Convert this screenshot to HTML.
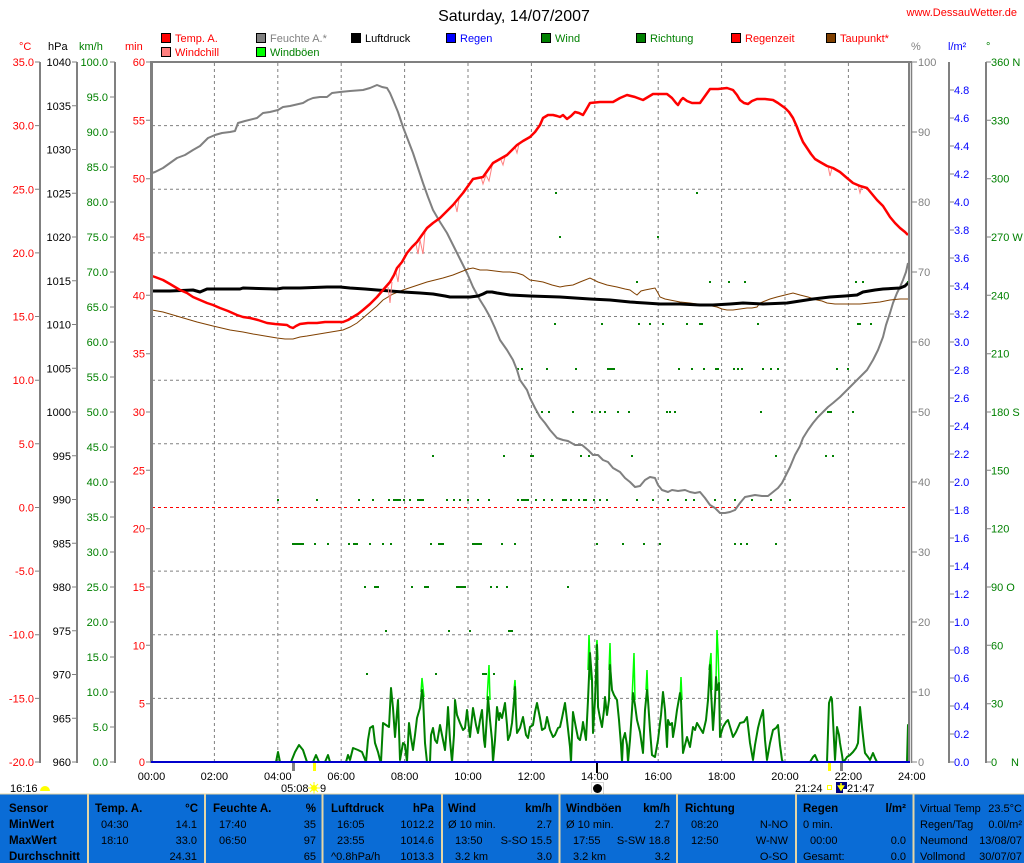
<!DOCTYPE html>
<html><head><meta charset="utf-8"><style>
body{margin:0;background:#fff}
svg{display:block}
text{font-family:"Liberation Sans",Arial,sans-serif}
</style></head><body>
<svg width="1024" height="863" viewBox="0 0 1024 863" xmlns="http://www.w3.org/2000/svg" font-size="11">
<rect width="1024" height="863" fill="#fff"/>

<!-- title -->
<text x="514" y="21" font-size="16" text-anchor="middle" fill="#000">Saturday, 14/07/2007</text>
<text x="1017" y="16" text-anchor="end" fill="#ff0000">www.DessauWetter.de</text>

<!-- legend -->
<g stroke="#000" stroke-width="1">
<rect x="161.5" y="33.5" width="9" height="9" fill="#ff0000"/>
<rect x="256.5" y="33.5" width="9" height="9" fill="#808080"/>
<rect x="351.5" y="33.5" width="9" height="9" fill="#000000"/>
<rect x="446.5" y="33.5" width="9" height="9" fill="#0000ff"/>
<rect x="541.5" y="33.5" width="9" height="9" fill="#008000"/>
<rect x="636.5" y="33.5" width="9" height="9" fill="#008000"/>
<rect x="731.5" y="33.5" width="9" height="9" fill="#ff0000"/>
<rect x="826.5" y="33.5" width="9" height="9" fill="#804000"/>
<rect x="161.5" y="47.5" width="9" height="9" fill="#ff8080"/>
<rect x="256.5" y="47.5" width="9" height="9" fill="#00ff00"/>
</g>
<text x="175" y="42" fill="#ff0000">Temp. A.</text>
<text x="270" y="42" fill="#808080">Feuchte A.*</text>
<text x="365" y="42" fill="#000">Luftdruck</text>
<text x="460" y="42" fill="#0000ff">Regen</text>
<text x="555" y="42" fill="#008000">Wind</text>
<text x="650" y="42" fill="#008000">Richtung</text>
<text x="745" y="42" fill="#ff0000">Regenzeit</text>
<text x="840" y="42" fill="#ff0000">Taupunkt*</text>
<text x="175" y="56" fill="#ff0000">Windchill</text>
<text x="270" y="56" fill="#008000">Windböen</text>

<!-- unit headers -->
<text x="19" y="50" fill="#ff0000">°C</text>
<text x="48" y="50" fill="#000">hPa</text>
<text x="79" y="50" fill="#008000">km/h</text>
<text x="125" y="50" fill="#ff0000">min</text>
<text x="911" y="50" fill="#808080">%</text>
<text x="948" y="50" fill="#0000ff">l/m²</text>
<text x="986" y="50" fill="#008000">°</text>

<!-- left axes lines -->
<g stroke="#808080" stroke-width="2">
<line x1="40" y1="62" x2="40" y2="763"/>
<line x1="77" y1="62" x2="77" y2="763"/>
<line x1="115" y1="62" x2="115" y2="763"/>
<line x1="949" y1="62" x2="949" y2="763"/>
<line x1="986" y1="62" x2="986" y2="763"/>
</g>

<g stroke="#808080" stroke-width="1">
<path d="M35,62H40M35,125.6H40M35,189.3H40M35,252.9H40M35,316.5H40M35,380.2H40M35,443.8H40M35,507.5H40M35,571.1H40M35,634.7H40M35,698.4H40M35,762H40"/>
<path d="M72,62H77M72,105.75H77M72,149.5H77M72,193.25H77M72,237H77M72,280.75H77M72,324.5H77M72,368.25H77M72,412H77M72,455.75H77M72,499.5H77M72,543.25H77M72,587H77M72,630.75H77M72,674.5H77M72,718.25H77M72,762H77"/>
<path d="M110,62H115M110,97H115M110,132H115M110,167H115M110,202H115M110,237H115M110,272H115M110,307H115M110,342H115M110,377H115M110,412H115M110,447H115M110,482H115M110,517H115M110,552H115M110,587H115M110,622H115M110,657H115M110,692H115M110,727H115M110,762H115"/>
<path d="M146,62H151M146,120.3H151M146,178.7H151M146,237H151M146,295.3H151M146,353.7H151M146,412H151M146,470.3H151M146,528.7H151M146,587H151M146,645.3H151M146,703.7H151M146,762H151"/>
<path d="M912,62H917M912,132H917M912,202H917M912,272H917M912,342H917M912,412H917M912,482H917M912,552H917M912,622H917M912,692H917M912,762H917"/>
<path d="M949,90H954M949,118H954M949,146H954M949,174H954M949,202H954M949,230H954M949,258H954M949,286H954M949,314H954M949,342H954M949,370H954M949,398H954M949,426H954M949,454H954M949,482H954M949,510H954M949,538H954M949,566H954M949,594H954M949,622H954M949,650H954M949,678H954M949,706H954M949,734H954M949,762H954"/>
<path d="M986,62H991M986,120.3H991M986,178.7H991M986,237H991M986,295.3H991M986,353.7H991M986,412H991M986,470.3H991M986,528.7H991M986,587H991M986,645.3H991M986,703.7H991M986,762H991"/>
</g>

<g fill="#ff0000" text-anchor="end">
<text x="34" y="66">35.0</text><text x="34" y="129.6">30.0</text><text x="34" y="193.3">25.0</text><text x="34" y="256.9">20.0</text><text x="34" y="320.5">15.0</text><text x="34" y="384.2">10.0</text><text x="34" y="447.8">5.0</text><text x="34" y="511.5">0.0</text><text x="34" y="575.1">-5.0</text><text x="34" y="638.7">-10.0</text><text x="34" y="702.4">-15.0</text><text x="34" y="766">-20.0</text>
</g>
<g fill="#000" text-anchor="end">
<text x="71" y="66">1040</text><text x="71" y="109.75">1035</text><text x="71" y="153.5">1030</text><text x="71" y="197.25">1025</text><text x="71" y="241">1020</text><text x="71" y="284.75">1015</text><text x="71" y="328.5">1010</text><text x="71" y="372.25">1005</text><text x="71" y="416">1000</text><text x="71" y="459.75">995</text><text x="71" y="503.5">990</text><text x="71" y="547.25">985</text><text x="71" y="591">980</text><text x="71" y="634.75">975</text><text x="71" y="678.5">970</text><text x="71" y="722.25">965</text><text x="71" y="766">960</text>
</g>
<g fill="#008000" text-anchor="end">
<text x="108" y="66">100.0</text><text x="108" y="101">95.0</text><text x="108" y="136">90.0</text><text x="108" y="171">85.0</text><text x="108" y="206">80.0</text><text x="108" y="241">75.0</text><text x="108" y="276">70.0</text><text x="108" y="311">65.0</text><text x="108" y="346">60.0</text><text x="108" y="381">55.0</text><text x="108" y="416">50.0</text><text x="108" y="451">45.0</text><text x="108" y="486">40.0</text><text x="108" y="521">35.0</text><text x="108" y="556">30.0</text><text x="108" y="591">25.0</text><text x="108" y="626">20.0</text><text x="108" y="661">15.0</text><text x="108" y="696">10.0</text><text x="108" y="731">5.0</text><text x="108" y="766">0.0</text>
</g>
<g fill="#ff0000" text-anchor="end">
<text x="145" y="66">60</text><text x="145" y="124.3">55</text><text x="145" y="182.7">50</text><text x="145" y="241">45</text><text x="145" y="299.3">40</text><text x="145" y="357.7">35</text><text x="145" y="416">30</text><text x="145" y="474.3">25</text><text x="145" y="532.7">20</text><text x="145" y="591">15</text><text x="145" y="649.3">10</text><text x="145" y="707.7">5</text><text x="145" y="766">0</text>
</g>
<g fill="#808080">
<text x="918" y="66">100</text><text x="918" y="136">90</text><text x="918" y="206">80</text><text x="918" y="276">70</text><text x="918" y="346">60</text><text x="918" y="416">50</text><text x="918" y="486">40</text><text x="918" y="556">30</text><text x="918" y="626">20</text><text x="918" y="696">10</text><text x="918" y="766">0</text>
</g>
<g fill="#0000ff">
<text x="954" y="94">4.8</text><text x="954" y="122">4.6</text><text x="954" y="150">4.4</text><text x="954" y="178">4.2</text><text x="954" y="206">4.0</text><text x="954" y="234">3.8</text><text x="954" y="262">3.6</text><text x="954" y="290">3.4</text><text x="954" y="318">3.2</text><text x="954" y="346">3.0</text><text x="954" y="374">2.8</text><text x="954" y="402">2.6</text><text x="954" y="430">2.4</text><text x="954" y="458">2.2</text><text x="954" y="486">2.0</text><text x="954" y="514">1.8</text><text x="954" y="542">1.6</text><text x="954" y="570">1.4</text><text x="954" y="598">1.2</text><text x="954" y="626">1.0</text><text x="954" y="654">0.8</text><text x="954" y="682">0.6</text><text x="954" y="710">0.4</text><text x="954" y="738">0.2</text><text x="954" y="766">0.0</text>
</g>
<g fill="#008000">
<text x="991" y="66">360 N</text><text x="991" y="124.3">330</text><text x="991" y="182.7">300</text><text x="991" y="241">270 W</text><text x="991" y="299.3">240</text><text x="991" y="357.7">210</text><text x="991" y="416">180 S</text><text x="991" y="474.3">150</text><text x="991" y="532.7">120</text><text x="991" y="591">90 O</text><text x="991" y="649.3">60</text><text x="991" y="707.7">30</text><text x="991" y="766">0</text><text x="1011" y="766">N</text>
</g>

<!-- grid -->
<g stroke="#808080" stroke-width="1" stroke-dasharray="3,3">
<path d="M152,125.6H909M152,189.3H909M152,252.9H909M152,316.5H909M152,380.2H909M152,443.8H909M152,571.1H909M152,634.7H909M152,698.4H909"/>
<path d="M214.4,63V762M277.8,63V762M341.2,63V762M404.6,63V762M468,63V762M531.4,63V762M594.8,63V762M658.2,63V762M721.6,63V762M785,63V762M848.4,63V762"/>
</g>
<path d="M152,507.5H909" stroke="#ff0000" stroke-width="1" stroke-dasharray="3,3"/>

<!-- wind direction dots -->
<g fill="#008000">
<rect x="555" y="192" width="2" height="2"/><rect x="696" y="192" width="2" height="2"/>
<rect x="559" y="236" width="2" height="2"/><rect x="657" y="236" width="2" height="2"/>
<rect x="636" y="281" width="2" height="2"/><rect x="709" y="281" width="2" height="2"/><rect x="728" y="281" width="2" height="2"/><rect x="744" y="281" width="2" height="2"/><rect x="855" y="281" width="2" height="2"/><rect x="862" y="281" width="2" height="2"/><rect x="907" y="281" width="2" height="2"/>
<rect x="554" y="323" width="2" height="2"/><rect x="601" y="323" width="2" height="2"/><rect x="638" y="323" width="2" height="2"/><rect x="649" y="323" width="2" height="2"/><rect x="662" y="323" width="2" height="2"/><rect x="686" y="323" width="2" height="2"/><rect x="699" y="323" width="4" height="2"/><rect x="757" y="323" width="2" height="2"/><rect x="857" y="323" width="4" height="2"/><rect x="870" y="323" width="2" height="2"/>
<rect x="517" y="368" width="2" height="2"/><rect x="521" y="368" width="2" height="2"/><rect x="546" y="368" width="2" height="2"/><rect x="575" y="368" width="2" height="2"/><rect x="607" y="368" width="8" height="2"/><rect x="678" y="368" width="2" height="2"/><rect x="691" y="368" width="2" height="2"/><rect x="703" y="368" width="2" height="2"/><rect x="715" y="368" width="4" height="2"/><rect x="733" y="368" width="2" height="2"/><rect x="737" y="368" width="2" height="2"/><rect x="741" y="368" width="2" height="2"/><rect x="762" y="368" width="2" height="2"/><rect x="770" y="368" width="2" height="2"/><rect x="777" y="368" width="2" height="2"/><rect x="836" y="368" width="2" height="2"/><rect x="847" y="368" width="2" height="2"/>
<rect x="536" y="411" width="2" height="2"/><rect x="541" y="411" width="2" height="2"/><rect x="548" y="411" width="2" height="2"/><rect x="572" y="411" width="2" height="2"/><rect x="591" y="411" width="2" height="2"/><rect x="599" y="411" width="2" height="2"/><rect x="604" y="411" width="2" height="2"/><rect x="617" y="411" width="2" height="2"/><rect x="628" y="411" width="2" height="2"/><rect x="666" y="411" width="2" height="2"/><rect x="669" y="411" width="2" height="2"/><rect x="674" y="411" width="2" height="2"/><rect x="760" y="411" width="2" height="2"/><rect x="815" y="411" width="2" height="2"/><rect x="827" y="411" width="5" height="2"/><rect x="852" y="411" width="2" height="2"/>
<rect x="432" y="455" width="2" height="2"/><rect x="503" y="455" width="2" height="2"/><rect x="530" y="455" width="4" height="2"/><rect x="580" y="455" width="2" height="2"/><rect x="588" y="455" width="2" height="2"/><rect x="631" y="455" width="2" height="2"/><rect x="775" y="455" width="2" height="2"/><rect x="825" y="455" width="2" height="2"/><rect x="832" y="455" width="2" height="2"/>
<rect x="277" y="499" width="2" height="2"/><rect x="316" y="499" width="2" height="2"/><rect x="358" y="499" width="2" height="2"/><rect x="372" y="499" width="2" height="2"/><rect x="388" y="499" width="2" height="2"/><rect x="393" y="499" width="8" height="2"/><rect x="403" y="499" width="2" height="2"/><rect x="409" y="499" width="2" height="2"/><rect x="417" y="499" width="7" height="2"/><rect x="446" y="499" width="2" height="2"/><rect x="453" y="499" width="2" height="2"/><rect x="459" y="499" width="2" height="2"/><rect x="467" y="499" width="2" height="2"/><rect x="477" y="499" width="2" height="2"/><rect x="488" y="499" width="2" height="2"/><rect x="517" y="499" width="2" height="2"/><rect x="521" y="499" width="8" height="2"/><rect x="535" y="499" width="2" height="2"/><rect x="543" y="499" width="2" height="2"/><rect x="551" y="499" width="2" height="2"/><rect x="562" y="499" width="5" height="2"/><rect x="570" y="499" width="2" height="2"/><rect x="578" y="499" width="2" height="2"/><rect x="583" y="499" width="4" height="2"/><rect x="593" y="499" width="2" height="2"/><rect x="599" y="499" width="2" height="2"/><rect x="606" y="499" width="2" height="2"/><rect x="636" y="499" width="2" height="2"/><rect x="652" y="499" width="2" height="2"/><rect x="667" y="499" width="2" height="2"/><rect x="685" y="499" width="2" height="2"/><rect x="693" y="499" width="2" height="2"/><rect x="714" y="499" width="2" height="2"/><rect x="734" y="499" width="2" height="2"/><rect x="751" y="499" width="2" height="2"/><rect x="770" y="499" width="2" height="2"/><rect x="789" y="499" width="2" height="2"/>
<rect x="292" y="543" width="12" height="2"/><rect x="314" y="543" width="2" height="2"/><rect x="327" y="543" width="2" height="2"/><rect x="348" y="543" width="2" height="2"/><rect x="353" y="543" width="5" height="2"/><rect x="369" y="543" width="2" height="2"/><rect x="382" y="543" width="2" height="2"/><rect x="390" y="543" width="2" height="2"/><rect x="430" y="543" width="2" height="2"/><rect x="438" y="543" width="6" height="2"/><rect x="472" y="543" width="10" height="2"/><rect x="501" y="543" width="2" height="2"/><rect x="514" y="543" width="2" height="2"/><rect x="596" y="543" width="2" height="2"/><rect x="622" y="543" width="2" height="2"/><rect x="643" y="543" width="2" height="2"/><rect x="659" y="543" width="2" height="2"/><rect x="734" y="543" width="2" height="2"/><rect x="740" y="543" width="2" height="2"/><rect x="746" y="543" width="2" height="2"/><rect x="775" y="543" width="2" height="2"/>
<rect x="364" y="586" width="2" height="2"/><rect x="374" y="586" width="5" height="2"/><rect x="411" y="586" width="2" height="2"/><rect x="424" y="586" width="5" height="2"/><rect x="456" y="586" width="10" height="2"/><rect x="490" y="586" width="2" height="2"/><rect x="496" y="586" width="2" height="2"/><rect x="506" y="586" width="2" height="2"/><rect x="567" y="586" width="2" height="2"/>
<rect x="385" y="630" width="2" height="2"/><rect x="448" y="630" width="2" height="2"/><rect x="469" y="630" width="2" height="2"/><rect x="508" y="630" width="5" height="2"/>
<rect x="366" y="673" width="2" height="2"/><rect x="435" y="673" width="2" height="2"/><rect x="482" y="673" width="5" height="2"/><rect x="493" y="673" width="2" height="2"/>
</g>

<!-- gusts -->
<path fill="none" stroke="#00ff00" stroke-width="1.5" d="M421,692L422,678L424,697M487,700L489,665L490,700M514,690L515,680L516,700M588,670L589,635L591,680M596,650L597,640L598,660M609,670L610,643L611,680M632,700L634,653L635,700M646,690L647,670L648,700M680,700L681,677L682,700M709,670L711,653L712,690M716,680L717,630L718,650L719,683"/>

<!-- wind -->
<polyline fill="none" stroke="#008000" stroke-width="2" stroke-linejoin="round" points="151,762 276,762 278,752 280,762 291,762 295,752 299,745 303,750 307,762 313,762 316,755 319,762 325,762 328,755 330,762 346,762 348,755 350,760 353,748 358,750 362,752 366,762 368,740 370,728 373,726 375,743 378,752 380,760 381,762 383,723 386,725 389,727 391,688 393,708 395,737 397,712 398,700 400,760 403,743 405,745 407,762 409,723 411,738 413,750 415,735 417,718 420,708 422,690 423,697 425,743 427,762 430,762 431,735 433,728 435,740 437,743 440,725 442,735 445,750 447,725 448,707 450,740 452,762 454,735 455,700 457,715 460,723 463,730 465,728 467,710 470,737 473,708 476,725 478,733 480,720 482,710 484,740 485,747 487,715 488,697 490,720 492,740 493,762 495,740 497,707 499,720 500,713 502,718 505,703 507,725 508,740 510,735 512,723 514,700 515,687 516,715 517,733 520,728 523,717 526,735 528,738 530,727 533,725 535,712 537,703 540,718 542,730 545,728 547,717 550,730 553,737 555,735 558,728 560,727 562,718 565,703 567,720 570,747 571,762 572,735 573,712 576,728 578,738 580,740 582,730 583,722 586,740 588,700 590,653 592,680 593,733 595,700 597,645 598,707 600,718 602,727 604,710 605,697 607,715 609,700 610,665 612,690 614,695 617,700 619,720 621,745 622,762 623,740 625,733 627,745 628,762 630,740 632,710 633,693 635,705 637,720 640,732 643,753 645,710 647,690 648,700 650,730 652,755 655,757 658,740 661,715 663,692 665,710 667,747 668,720 670,725 672,723 673,737 675,725 677,710 680,693 681,700 683,753 685,745 687,737 690,747 693,727 695,730 697,723 700,728 703,733 706,720 708,700 710,665 711,690 713,730 715,700 716,677 717,690 719,683 720,737 723,727 726,722 728,720 731,730 733,737 736,732 740,723 744,722 747,717 750,743 753,760 755,745 758,728 760,720 763,710 765,740 767,760 770,743 773,730 776,728 778,725 780,745 782,760 783,762 810,762 813,757 815,755 818,762 827,762 829,703 831,697 832,700 834,740 835,760 837,727 839,735 840,743 842,755 843,762 845,760 847,757 850,755 853,752 856,748 858,743 860,707 862,727 864,745 865,753 868,757 870,760 873,753 875,758 877,762 907,762 908,725 909,762"/>

<!-- humidity -->
<polyline fill="none" stroke="#808080" stroke-width="2" stroke-linejoin="round" points="152,173 155,172 163,168 170,163 177,158 185,155 193,150 200,146 208,138 215,135 222,133 230,132 235,131 238,123 245,121 257,118 263,113 270,112 278,110 283,107 290,106 303,103 308,100 313,98 320,97 327,97 332,93 340,92 350,91 363,90 370,88 377,85 382,87 387,88 390,93 393,100 398,112 403,127 408,140 413,153 418,168 423,183 428,197 433,210 440,222 447,233 452,243 457,253 462,263 467,273 473,287 480,300 485,308 490,317 495,328 500,340 507,350 513,360 517,370 520,380 527,390 530,398 535,408 540,417 545,423 550,430 557,438 563,440 568,441 575,445 582,445 588,450 593,455 598,455 603,460 608,462 613,468 620,472 625,478 630,482 635,487 640,486 645,480 650,477 655,478 658,485 662,490 668,492 672,490 678,491 685,490 690,492 695,493 700,492 705,498 710,505 715,508 720,513 725,513 730,512 735,510 740,503 745,497 750,496 755,495 762,496 768,496 773,492 778,488 782,483 786,475 790,467 795,455 800,446 803,438 808,430 813,423 818,417 823,412 828,407 833,403 840,397 847,390 852,385 857,380 862,375 867,370 873,360 878,350 883,337 886,325 890,313 893,303 897,293 900,287 903,280 906,272 908,263"/>

<!-- dew point -->
<polyline fill="none" stroke="#804000" stroke-width="1" points="152,310 163,312 180,317 197,322 213,326 230,330 243,332 253,334 265,336 277,338 285,339 293,339 300,337 307,336 325,333 343,330 350,327 357,323 363,318 370,312 377,306 383,300 393,294 403,290 415,286 427,282 435,280 443,278 453,275 463,271 468,269 473,268 480,270 487,270 495,271 503,272 510,272 517,273 523,275 530,280 537,281 543,282 552,285 560,287 565,286 573,285 580,282 590,278 598,282 607,285 617,287 625,289 630,290 634,293 637,295 641,291 645,290 650,289 655,288 658,293 660,297 665,299 670,300 680,302 690,303 697,304 705,305 712,306 717,307 722,309 727,310 733,310 740,309 747,308 752,308 757,307 760,303 765,301 770,299 777,297 785,295 793,293 800,295 808,297 817,300 822,301 827,303 835,304 843,304 850,304 860,304 870,303 880,302 890,300 900,299 908,299"/>

<!-- pressure -->
<polyline fill="none" stroke="#000" stroke-width="3" stroke-linejoin="round" points="152,291 170,291 193,290 200,292 207,289 240,289 243,288 277,289 283,288 300,288 327,287 340,287 350,288 365,289 377,290 390,291 403,292 420,293 433,294 445,296 450,297 460,297 470,297 478,296 483,294 487,292 492,292 497,293 510,295 530,296 560,297 575,298 590,299 610,300 630,302 645,303 660,304 680,304 700,305 713,305 730,304 743,303 763,304 787,303 800,301 813,299 830,297 845,296 857,295 863,292 875,290 883,289 900,288 905,286 908,283"/>

<!-- windchill dips -->
<path fill="none" stroke="#ff8080" stroke-width="1" d="M388,287L390,303L392,282M396,272L398,282L400,266M416,244L418,254L420,240L423,254L425,232M455,203L457,212L459,199M481,177L483,184L486,175L489,181L492,166M501,160L503,165L505,157M515,147L517,153L519,144M828,166L830,176L832,168M858,185L860,193L862,186"/>

<!-- temperature -->
<polyline fill="none" stroke="#ff0000" stroke-width="2.5" stroke-linejoin="round" points="152,276 155,277 163,280 170,284 180,290 187,293 193,297 200,300 207,303 213,305 220,308 228,311 237,315 243,317 250,318 258,320 267,323 275,324 287,325 290,327 293,328 296,326 300,324 308,323 317,323 325,322 335,322 343,322 348,320 353,317 358,314 363,310 370,304 377,297 383,290 390,282 394,275 397,268 402,262 407,253 412,247 417,242 422,235 427,228 433,223 440,218 446,212 453,205 458,199 463,193 468,186 473,179 478,178 483,177 488,170 493,163 500,159 507,155 512,150 517,145 523,141 530,137 535,132 540,125 543,118 548,115 553,115 557,116 560,117 563,115 567,119 571,116 575,112 579,113 583,115 586,110 590,103 600,102 613,102 620,98 627,95 635,97 643,100 648,97 653,94 660,94 667,94 672,98 676,103 678,105 681,100 683,98 687,101 692,103 700,103 705,96 710,89 718,89 727,88 730,89 733,90 737,95 740,100 744,103 748,104 752,101 757,99 765,99 773,100 778,103 785,108 789,112 793,118 797,127 800,135 803,142 807,148 811,154 815,159 820,162 827,166 833,168 840,172 847,178 853,183 860,186 867,188 872,194 877,200 883,206 890,217 895,223 900,228 905,232 908,235"/>

<!-- frame -->
<rect x="150" y="61" width="3" height="702" fill="#808080"/>
<line x1="150" y1="62" x2="912" y2="62" stroke="#808080" stroke-width="2"/>
<line x1="909" y1="62" x2="909" y2="763" stroke="#808080" stroke-width="2"/>
<line x1="911.5" y1="62" x2="911.5" y2="763" stroke="#808080" stroke-width="1.5"/>
<line x1="151" y1="762" x2="910" y2="762" stroke="#0000cc" stroke-width="2"/>

<!-- bottom markers -->
<rect x="292" y="763" width="3" height="8" fill="#808080"/>
<rect x="313" y="763" width="3" height="8" fill="#ffff00"/>
<rect x="596" y="763" width="2" height="10" fill="#000"/>
<rect x="828" y="763" width="3" height="8" fill="#ffff00"/>
<rect x="840" y="763" width="3" height="8" fill="#808080"/>

<!-- time labels -->
<g fill="#000" text-anchor="middle">
<text x="151.5" y="780">00:00</text><text x="214.4" y="780">02:00</text><text x="277.8" y="780">04:00</text><text x="341.2" y="780">06:00</text><text x="404.6" y="780">08:00</text><text x="468" y="780">10:00</text><text x="531.4" y="780">12:00</text><text x="594.8" y="780">14:00</text><text x="658.2" y="780">16:00</text><text x="721.6" y="780">18:00</text><text x="785" y="780">20:00</text><text x="848.4" y="780">22:00</text><text x="911.8" y="780">24:00</text>
</g>

<!-- sun / moon row -->
<text x="10" y="792" fill="#000">16:16</text>
<path d="M40,791A5,5 0 0 1 50,791Z" fill="#ffff00"/>
<text x="281" y="792" fill="#000">05:08</text>
<g stroke="#ffff00" stroke-width="1"><path d="M314,782V794M308,788H320M310,784L318,792M318,784L310,792"/></g>
<circle cx="314" cy="788" r="3" fill="#ffff00"/>
<text x="320" y="792" fill="#000">9</text>
<rect x="591.5" y="782.5" width="12" height="12" fill="none" stroke="#aaa" stroke-dasharray="1,1"/>
<circle cx="597.5" cy="788.5" r="4.5" fill="#000"/>
<text x="795" y="792" fill="#000">21:24</text>
<rect x="827.5" y="785.5" width="4" height="4" fill="none" stroke="#ffff00"/>
<rect x="836" y="782" width="11" height="11" fill="#000080"/>
<path d="M841,783V787M838.5,786L841,790L843.5,786Z" stroke="#ffff00" fill="#ffff00" stroke-width="1.5"/>
<rect x="843" y="789" width="4" height="4" fill="#fff"/>
<text x="847" y="792" fill="#000">21:47</text>

<!-- table -->
<rect x="0" y="794" width="1024" height="69" fill="#0a6cd6"/>
<line x1="0" y1="794" x2="1024" y2="794" stroke="#e6d6a6" stroke-width="1"/>
<g stroke="#e6d6a6" stroke-width="2">
<line x1="88" y1="794" x2="88" y2="863"/><line x1="205" y1="794" x2="205" y2="863"/><line x1="322.5" y1="794" x2="322.5" y2="863"/><line x1="442" y1="794" x2="442" y2="863"/><line x1="559.5" y1="794" x2="559.5" y2="863"/><line x1="677" y1="794" x2="677" y2="863"/><line x1="796" y1="794" x2="796" y2="863"/><line x1="913.5" y1="794" x2="913.5" y2="863"/>
</g>
<g fill="#000" font-weight="bold" font-size="11.5">
<text x="9" y="812">Sensor</text><text x="9" y="828">MinWert</text><text x="9" y="844">MaxWert</text><text x="9" y="860">Durchschnitt</text>
<text x="95" y="812">Temp. A.</text><text x="198" y="812" text-anchor="end">°C</text>
<text x="213" y="812">Feuchte A.</text><text x="316" y="812" text-anchor="end">%</text>
<text x="331" y="812">Luftdruck</text><text x="434" y="812" text-anchor="end">hPa</text>
<text x="448" y="812">Wind</text><text x="552" y="812" text-anchor="end">km/h</text>
<text x="566" y="812">Windböen</text><text x="670" y="812" text-anchor="end">km/h</text>
<text x="685" y="812">Richtung</text>
<text x="803" y="812">Regen</text><text x="906" y="812" text-anchor="end">l/m²</text>
</g>
<g fill="#000">
<text x="101" y="828">04:30</text><text x="197" y="828" text-anchor="end">14.1</text>
<text x="101" y="844">18:10</text><text x="197" y="844" text-anchor="end">33.0</text>
<text x="197" y="860" text-anchor="end">24.31</text>
<text x="219" y="828">17:40</text><text x="316" y="828" text-anchor="end">35</text>
<text x="219" y="844">06:50</text><text x="316" y="844" text-anchor="end">97</text>
<text x="316" y="860" text-anchor="end">65</text>
<text x="337" y="828">16:05</text><text x="434" y="828" text-anchor="end">1012.2</text>
<text x="337" y="844">23:55</text><text x="434" y="844" text-anchor="end">1014.6</text>
<text x="331" y="860">^0.8hPa/h</text><text x="434" y="860" text-anchor="end">1013.3</text>
<text x="448" y="828">Ø 10 min.</text><text x="552" y="828" text-anchor="end">2.7</text>
<text x="455" y="844">13:50</text><text x="552" y="844" text-anchor="end">S-SO 15.5</text>
<text x="455" y="860">3.2 km</text><text x="552" y="860" text-anchor="end">3.0</text>
<text x="566" y="828">Ø 10 min.</text><text x="670" y="828" text-anchor="end">2.7</text>
<text x="573" y="844">17:55</text><text x="670" y="844" text-anchor="end">S-SW 18.8</text>
<text x="573" y="860">3.2 km</text><text x="670" y="860" text-anchor="end">3.2</text>
<text x="691" y="828">08:20</text><text x="788" y="828" text-anchor="end">N-NO</text>
<text x="691" y="844">12:50</text><text x="788" y="844" text-anchor="end">W-NW</text>
<text x="788" y="860" text-anchor="end">O-SO</text>
<text x="803" y="828">0 min.</text>
<text x="810" y="844">00:00</text><text x="906" y="844" text-anchor="end">0.0</text>
<text x="803" y="860">Gesamt:</text><text x="906" y="860" text-anchor="end">0.0</text>
<text x="920" y="812">Virtual Temp</text><text x="1022" y="812" text-anchor="end">23.5°C</text>
<text x="920" y="828">Regen/Tag</text><text x="1022" y="828" text-anchor="end">0.0l/m²</text>
<text x="920" y="844">Neumond</text><text x="1022" y="844" text-anchor="end">13/08/07</text>
<text x="920" y="860">Vollmond</text><text x="1022" y="860" text-anchor="end">30/07/07</text>
</g>
</svg>
</body></html>
